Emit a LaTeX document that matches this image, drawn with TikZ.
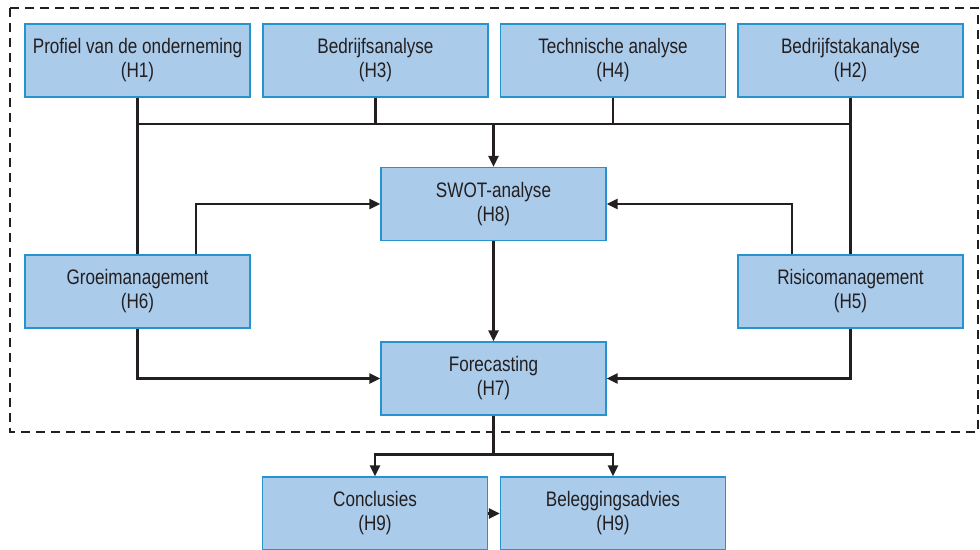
\documentclass[tikz,border=0pt]{standalone}
\usepackage{fontspec}
\setmainfont{Liberation Sans}[FakeStretch=0.815]
\usetikzlibrary{arrows.meta}
\definecolor{boxfill}{RGB}{171,203,234}
\definecolor{boxline}{RGB}{38,146,206}
\definecolor{ink}{RGB}{35,31,32}
\begin{document}
\begin{tikzpicture}[x=1pt,y=-1pt,
  chapter/.style={draw=boxline, fill=boxfill, line width=1.3pt,
    minimum width=225pt, minimum height=73pt, inner sep=0pt,
    align=center, text=ink, font=\fontsize{21}{24}\selectfont},
  link/.style={draw=ink, line width=2.8pt},
  flow/.style={link, -{Triangle[length=11pt,width=10pt]}},
  frame/.style={draw=ink, line width=1.4pt, dash pattern=on 9pt off 6pt}]
\useasboundingbox (0,0) rectangle (980,549);
\clip (0,0) rectangle (980,549);

% outer dashed frame around the analysis part
\draw[frame] (10,8) rectangle (978,432);

% chapter boxes
\node[chapter] (h1) at (137.5,60.5) {Profiel van de onderneming\\(H1)};
\node[chapter] (h3) at (375.5,60.5) {Bedrijfsanalyse\\(H3)};
\node[chapter] (h4) at (613,60.5) {Technische analyse\\(H4)};
\node[chapter] (h2) at (850.5,60.5) {Bedrijfstakanalyse\\(H2)};
\node[chapter] (h8) at (493.5,204) {SWOT-analyse\\(H8)};
\node[chapter] (h6) at (137.5,291.5) {Groeimanagement\\(H6)};
\node[chapter] (h5) at (850.5,291.5) {Risicomanagement\\(H5)};
\node[chapter] (h7) at (493.5,378.5) {Forecasting\\(H7)};
\node[chapter] (h9a) at (375,513.5) {Conclusies\\(H9)};
\node[chapter] (h9b) at (613,513.5) {Beleggingsadvies\\(H9)};

% collecting bus below the top row
\coordinate (busL) at (137.5,124);
\coordinate (busR) at (850.5,124);
\coordinate (busM) at (493.5,124);
\draw[link] (busL) -- (busR);
\draw[link] (h1.south) -- (h6.north);
\draw[link] (h2.south) -- (h5.north);
\draw[link] (h3.south) -- (h3.south |- busL);
\draw[link] (h4.south) -- (h4.south |- busL);
\draw[flow] (busM) -- (h8.north);

% feedback into the SWOT analysis
\draw[flow] ([xshift=58.5pt]h6.north) |- (h8.west);
\draw[flow] ([xshift=-58.5pt]h5.north) |- (h8.east);

% into forecasting
\draw[flow] (h8.south) -- (h7.north);
\draw[flow] (h6.south) |- (h7.west);
\draw[flow] (h5.south) |- (h7.east);

% from forecasting to the conclusions
\coordinate (split) at ([yshift=-39pt]h7.south);
\draw[link] (h7.south) -- (split);
\draw[flow] (split) -| (h9a.north);
\draw[flow] (split) -| (h9b.north);
\draw[flow] (h9a.east) -- (h9b.west);
\end{tikzpicture}
\end{document}
